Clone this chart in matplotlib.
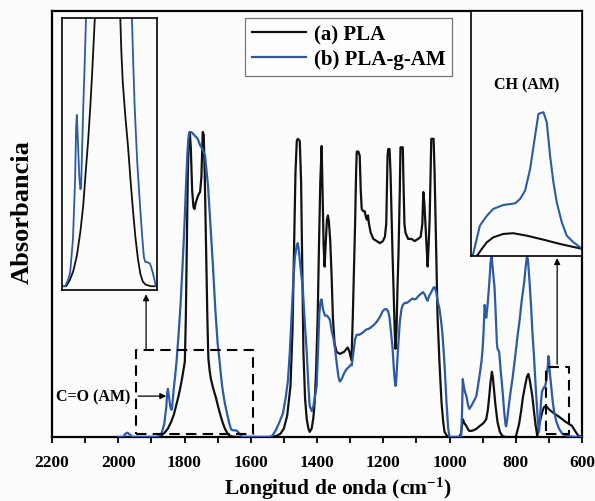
#!/usr/bin/env python3

import numpy as np
from matplotlib import pyplot as plt

### FTIR spectra (absorbance in arbitrary units, 0-100)
PLA_WN = [2000, 1900, 1880, 1870, 1860, 1850, 1840, 1832, 1825, 1818, 1812, 1807, 1803, 1799,
          1796, 1793, 1790, 1787, 1784, 1781, 1777, 1773, 1770, 1766, 1762, 1757, 1753, 1749,
          1747, 1745, 1742, 1739, 1735, 1731, 1728, 1724, 1720, 1713, 1705, 1698, 1691, 1684,
          1677, 1670, 1663, 1655, 1640, 1600, 1540, 1520, 1510, 1500, 1490, 1480, 1474, 1469,
          1465, 1461, 1458, 1452, 1448, 1445, 1441, 1436, 1431, 1426, 1422, 1416, 1411, 1407,
          1403, 1398, 1394, 1390, 1386, 1383, 1380, 1377, 1374, 1370, 1367, 1364, 1360, 1356,
          1352, 1347, 1341, 1331, 1318, 1310, 1307, 1302, 1296, 1292, 1288, 1285, 1282, 1280,
          1275, 1271, 1268, 1265, 1260, 1256, 1252, 1249, 1246, 1243, 1238, 1230, 1220, 1210,
          1201, 1195, 1191, 1189, 1187, 1185, 1181, 1178, 1175, 1172, 1168, 1165, 1163, 1160,
          1157, 1154, 1150, 1148, 1141, 1139, 1136, 1133, 1125, 1115, 1105, 1095, 1087, 1082,
          1079, 1076, 1072, 1069, 1066, 1063, 1060, 1057, 1055, 1048, 1045, 1042, 1039, 1036,
          1030, 1024, 1019, 1015, 1008, 1000, 970, 965, 962, 960, 955, 949, 944, 940, 930, 919,
          910, 900, 895, 889, 884, 880, 876, 872, 869, 866, 862, 858, 855, 848, 840, 830, 800,
          790, 784, 779, 772, 766, 762, 758, 754, 750, 745, 740, 735, 730, 725, 720, 715, 709,
          703, 697, 690, 680, 670, 660, 650, 640, 630, 620, 610, 600]
PLA_ABS = [0, 0, 0, 0.4, 1.0, 2.0, 3.6, 5.3, 7.5, 9.6, 11.8, 13.9, 15.8, 17.7,
           28, 45, 62, 70, 71.6, 68, 58, 54, 53.5, 55, 56, 57, 57.5, 61,
           66, 71.6, 71, 62, 45, 28, 18.5, 15.5, 13.5, 11.3, 9.2, 7, 5.0, 3.2,
           1.8, 0.8, 0.3, 0.1, 0, 0, 0, 0.3, 0.8, 2.0, 5, 12, 25, 45,
           62, 69.5, 70, 69.5, 60, 42, 20, 9, 4.2, 2, 1.2, 2, 4.5, 8.2,
           15, 28, 45, 60, 68.3, 57, 45, 40, 45, 51, 52, 50.5, 46, 38,
           28, 22, 20, 19.5, 20, 20.8, 21, 20, 18, 28, 40, 50, 62, 67,
           67, 66, 58, 53.5, 53, 53, 51.5, 51, 52, 50, 48, 46.5, 46, 45.5,
           46, 47, 50, 58, 66, 67.6, 67.6, 62, 52, 43, 32, 24, 20.7, 25,
           35, 43, 58, 68, 68, 60, 50, 48, 46.5, 46.5, 46, 46.5, 47, 50,
           57.5, 55, 49, 44, 40, 45, 51, 62, 70, 70, 62, 51, 40, 28,
           17, 8, 3.5, 1.2, 0.3, 0, 0, 1, 3, 4.2, 3.2, 2.6, 1.8, 1.4, 1.5, 1.9,
           2.5, 3.1, 3.5, 4.2, 6.5, 9.6, 13, 15.3, 14, 11.3, 8, 5.5, 3.5, 1.2, 0.2, 0, 0,
           3, 6, 9, 12, 14.2, 14.8, 13.5, 11.5, 9.6, 6, 2.8, 0.2, 2.5, 4.3, 5.9, 7, 7.3,
           6.8, 6.3, 5.9, 5.3, 4.8, 4.2, 3.6, 3.1, 2.6, 1.3, 0.2, 0]

AM_WN = [2000, 1985, 1978, 1972, 1965, 1958, 1900, 1883, 1875, 1869, 1861, 1855, 1852, 1850,
         1847, 1843, 1840, 1838, 1835, 1832, 1828, 1824, 1818, 1812, 1806, 1800, 1795, 1791,
         1787, 1784, 1778, 1772, 1766, 1760, 1753, 1745, 1738, 1734, 1729, 1722, 1714, 1707,
         1700, 1694, 1690, 1686, 1679, 1671, 1665, 1660, 1656, 1652, 1643, 1640, 1635, 1630,
         1626, 1600, 1545, 1535, 1525, 1515, 1503, 1495, 1488, 1482, 1477, 1472, 1467, 1461,
         1458, 1455, 1450, 1443, 1437, 1431, 1426, 1422, 1416, 1411, 1405, 1401, 1397, 1393,
         1389, 1386, 1382, 1376, 1370, 1365, 1361, 1356, 1350, 1346, 1340, 1335, 1331, 1325,
         1318, 1310, 1303, 1298, 1295, 1290, 1285, 1280, 1272, 1262, 1252, 1241, 1230, 1220,
         1210, 1202, 1196, 1190, 1185, 1181, 1177, 1172, 1168, 1165, 1163, 1161, 1158, 1156,
         1150, 1145, 1141, 1135, 1128, 1120, 1112, 1105, 1100, 1095, 1088, 1080, 1075, 1070,
         1066, 1062, 1055, 1049, 1045, 1040, 1036, 1030, 1025, 1021, 1015, 1009, 1004, 1000,
         965, 962, 960, 957, 953, 949, 944, 940, 935, 928, 919, 910, 903, 900, 897, 894, 891,
         889, 885, 880, 876, 873, 870, 867, 864, 860, 857, 855, 852, 850, 846, 840, 835, 831,
         829, 826, 820, 815, 810, 800, 795, 789, 782, 775, 770, 766, 763, 758, 754, 750, 745,
         740, 736, 733, 730, 727, 724, 721, 716, 711, 707, 704, 701, 699, 697, 693, 688, 684,
         677, 669, 660, 650, 639, 620, 600]
AM_ABS = [0, 0, 0.8, 1.0, 0.6, 0, 0, 0, 0.4, 0.9, 3.1, 7, 10.5, 11.3,
          9.5, 7.2, 6.4, 6.5, 9, 11.7, 14.5, 17.7, 24, 31, 40, 50, 60, 67,
          71, 71.6, 71.5, 71, 70.5, 70, 68.5, 67.5, 66, 63, 59, 50, 40, 30,
          22, 17.7, 14.5, 11.7, 8.2, 5.3, 3.3, 1.9, 1.6, 1.6, 1.5, 1.3, 0.9, 0.4,
          0, 0, 0, 0.3, 1.5, 3.2, 5.5, 9, 13, 20, 28, 36, 42, 45,
          45.5, 44, 40, 35, 27, 20, 12, 7.3, 6.1, 7.2, 10, 12, 20, 29,
          32, 32.3, 30, 28.5, 28.5, 28, 27.5, 25, 23, 21, 17, 14, 13, 13.7,
          15, 16, 16.5, 17, 16.8, 20, 23, 24, 24, 24.5, 25.2, 25.5, 26.2, 27,
          28.2, 29.5, 30, 30, 29.5, 28, 25, 21, 16, 13, 12, 13, 17, 20,
          27, 30, 31, 31.5, 31.5, 32, 32.5, 32.3, 32.5, 33, 33.5, 34, 33.5, 32.5,
          32, 33, 34, 35, 35.2, 34, 32, 30, 27, 24, 17, 8, 2, 0,
          0, 6, 13.6, 12, 10.5, 9.6, 7.5, 6.6, 7.2, 8.2, 9.6, 14, 18, 20.7, 25, 31, 29,
          28, 31, 36, 41, 42.5, 40, 37.5, 35, 28, 22, 20.7, 20.3, 20, 16, 11, 6, 3,
          2.5, 4, 8, 11, 13.6, 20, 23.5, 27, 32, 36, 40, 42.5, 41.5, 36, 31, 25, 19,
          12, 7.3, 3.5, 1.2, 4, 8, 10.6, 11.5, 12, 13.6, 16, 19, 17.5, 15, 12, 8, 5.9,
          3.5, 1.9, 0.8, 0.4, 0.2, 0, 0]

# expanded CH (AM) region
CH_WN = [719.4, 716.8, 714.3, 712.0, 708.4, 704.1, 702.3, 700.5, 698.7, 696.9, 695.7, 693.9,
         692.7, 691.5, 690.3, 689.1, 687.3, 685.5, 683.1, 680.7, 680.0]
CH_AM = [0, 12.4, 16.4, 19.2, 20.8, 21.5, 23.3, 26.7, 35.5, 49.1, 58.0, 58.7,
         54.6, 40.9, 30.1, 21.9, 13.8, 8.3, 5.6, 3.6, 2.9]
CH_PLA_WN = [717.9, 716.1, 714.3, 712.0, 708.4, 704.8, 699.9, 694.0, 687.9, 680.7, 680.0]
CH_PLA = [0, 2.9, 5.6, 7.6, 9.0, 9.3, 8.3, 6.7, 4.9, 3.1, 2.9]

LABELS = ['(a) PLA', '(b) PLA-g-AM']
COLORS = ['#111111', '#2b5aa8']
XTICKS = [2200, 2000, 1800, 1600, 1400, 1200, 1000, 800, 600]

SERIF = 'Liberation Serif'


def dashed_box(ax, x0, x1, y0, y1):
    """ Draw a dashed rectangle in data coordinates """
    ax.plot([x0, x1, x1, x0, x0], [y0, y0, y1, y1, y0], color='k', lw=1.5,
            dashes=(5, 3), zorder=4)


def arrow(ax, start, end, lw=0.9):
    """ Thin arrow with a filled head from start to end """
    ax.annotate('', xy=end, xytext=start,
                arrowprops=dict(arrowstyle='-|>', color='k', lw=lw,
                                mutation_scale=9, shrinkA=0, shrinkB=0))


def plot_spectra(name='out.png'):
    plt.rcParams['font.family'] = SERIF
    plt.rcParams['font.weight'] = 'bold'
    plt.rcParams['mathtext.default'] = 'regular'

    fig = plt.figure(figsize=(5.95, 5.02), dpi=100)
    fig.patch.set_facecolor('#fcfcfc')
    ax = fig.add_axes([52 / 595, 64 / 502, 530 / 595, 426 / 502])
    ax.set_facecolor('#fcfcfc')

    ax.plot(PLA_WN, PLA_ABS, color=COLORS[0], lw=1.6, label=LABELS[0], zorder=2)
    ax.plot(AM_WN, AM_ABS, color=COLORS[1], lw=1.6, label=LABELS[1], zorder=3)

    ax.set_xlim(2200, 600)
    ax.set_ylim(0, 100)
    ax.set_xticks(XTICKS)
    ax.set_xticks(np.arange(2100, 600, -200), minor=True)
    ax.set_yticks([])
    ax.tick_params(axis='x', which='both', direction='out', length=4.5, width=1.3,
                   labelsize=12.5, pad=8)
    for sp in ax.spines.values():
        sp.set_linewidth(1.6)

    ax.set_xlabel(r'Longitud de onda (cm$^{-1}$)', fontsize=15.5, fontweight='bold')
    ax.xaxis.set_label_coords(0.54, -0.088)
    ax.set_ylabel('Absorbancia', fontsize=19, fontweight='bold')
    ax.yaxis.set_label_coords(-0.034, 0.53)

    leg = ax.legend(loc='upper right', bbox_to_anchor=(452 / 595, 1 - 19 / 502),
                    bbox_transform=fig.transFigure, borderaxespad=0, fancybox=False,
                    prop={'family': SERIF, 'weight': 'bold', 'size': 15},
                    handlelength=2.6, handletextpad=0.4, borderpad=0.3, labelspacing=0.25)
    leg.get_frame().set_edgecolor('#555555')
    leg.get_frame().set_linewidth(0.9)

    # zoom boxes and call-outs
    dashed_box(ax, 1946, 1594, 0.7, 20.4)
    dashed_box(ax, 708, 639, 0.7, 16.4)
    arrow(ax, (1916, 20.4), (1916, 33.5))
    arrow(ax, (675, 17.1), (675, 42.0))
    arrow(ax, (1940, 9.6), (1855, 9.6))
    ax.text(1962, 9.6, 'C=O (AM)', ha='right', va='center', fontsize=11.5,
            fontweight='bold')

    # inset: carbonyl region
    ins1 = fig.add_axes([62 / 595, 211 / 502, 95 / 595, 272 / 502])
    ins1.plot(PLA_WN, PLA_ABS, color=COLORS[0], lw=1.3)
    ins1.plot(AM_WN, AM_ABS, color=COLORS[1], lw=1.3)
    ins1.set_xlim(1892, 1623)
    ins1.set_ylim(-0.25, 17.7)

    # inset: CH (AM) region
    ins2 = fig.add_axes([471 / 595, 245 / 502, 111 / 595, 245 / 502])
    ins2.plot(CH_PLA_WN, CH_PLA, color=COLORS[0], lw=1.5)
    ins2.plot(CH_WN, CH_AM, color=COLORS[1], lw=1.5)
    ins2.set_xlim(720, 680)
    ins2.set_ylim(0, 100)
    ins2.text(0.5, 0.70, 'CH (AM)', transform=ins2.transAxes, ha='center', va='center',
              fontsize=11.5, fontweight='bold')

    for ins in (ins1, ins2):
        ins.set_xticks([])
        ins.set_yticks([])
        ins.set_facecolor('#fcfcfc')
        for sp in ins.spines.values():
            sp.set_linewidth(1.2)

    fig.savefig(name, facecolor=fig.get_facecolor())


def main():
    plot_spectra('out.png')
    return 0


if __name__ == '__main__':
    main()
